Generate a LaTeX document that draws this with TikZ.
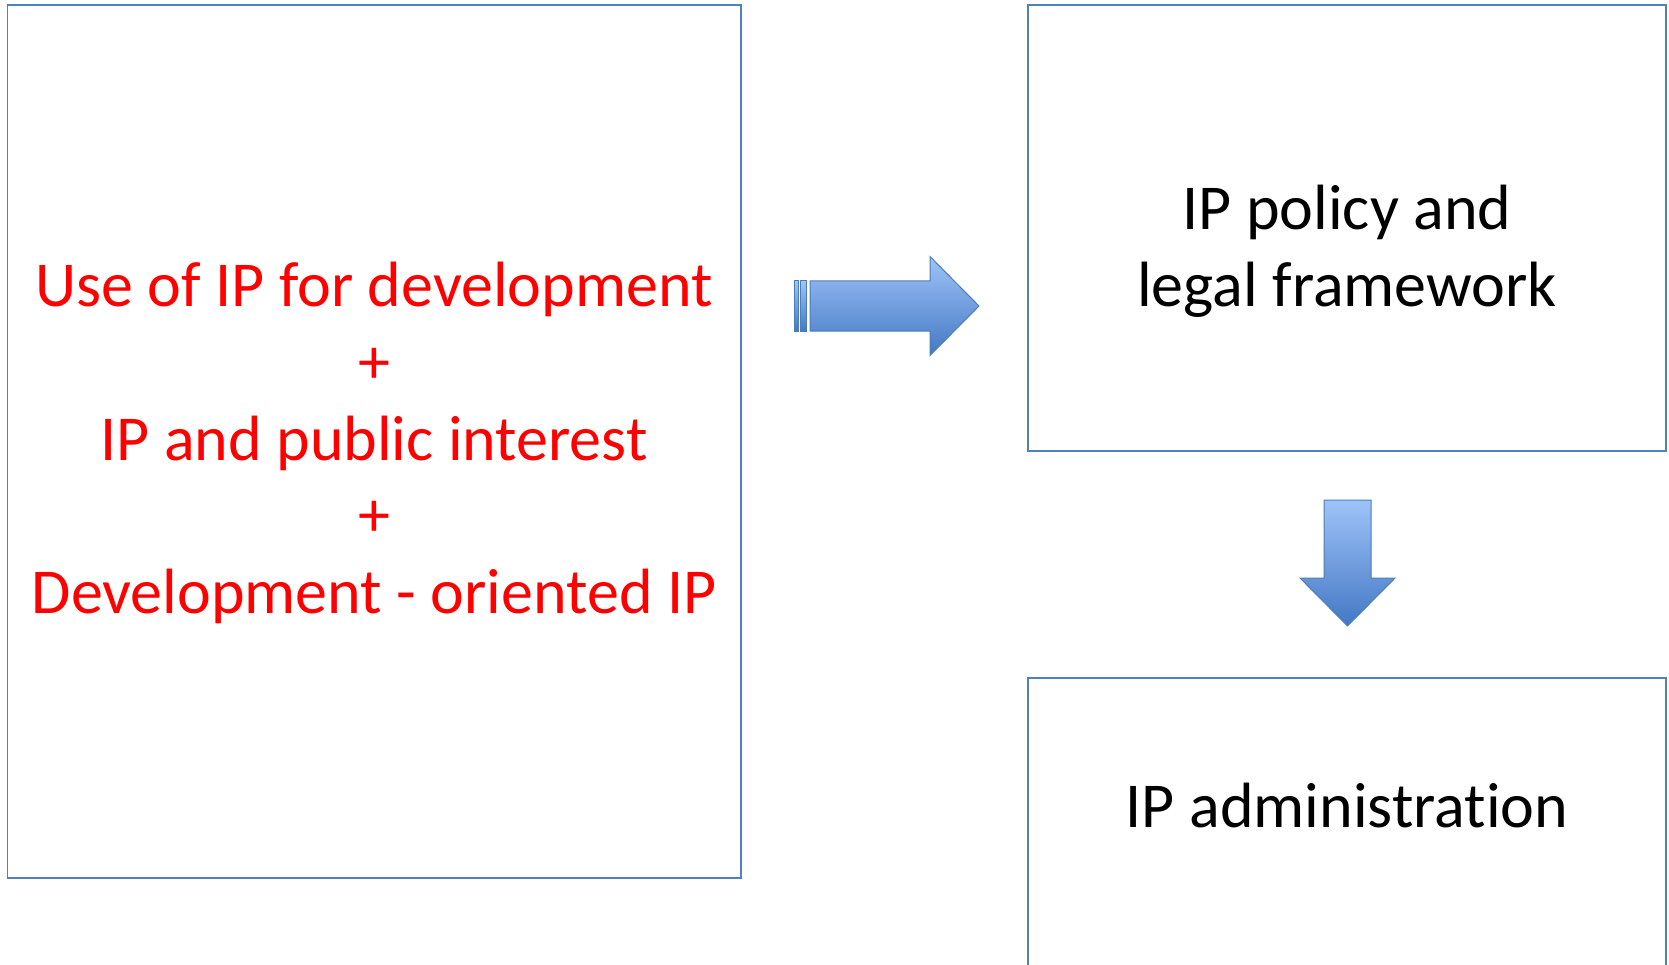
\documentclass[tikz,border=0pt]{standalone}
\usepackage{fontspec}
\setmainfont[Ligatures={NoCommon}]{Carlito}
\definecolor{boxblue}{HTML}{4F81BD}
\definecolor{arrtop}{HTML}{9EC3F8}
\definecolor{arrbot}{HTML}{4478C4}
\definecolor{arredge}{HTML}{4A7EBB}
\definecolor{txtred}{HTML}{FF0000}
\begin{document}
\begin{tikzpicture}[x=1pt,y=-1pt,
  panel/.style={draw=boxblue,line width=1.6pt,fill=none},
  blockarrow/.style={draw=arredge,line width=1pt,top color=arrtop,bottom color=arrbot,line join=miter},
  bigtext/.style={font=\fontsize{64}{76.6}\selectfont,align=center,inner sep=0pt}]
\useasboundingbox (0,0) rectangle (1669,965);
% boxes
\draw[panel] (7.5,5.3) rectangle (741,878);
\draw[panel] (1028,5.3) rectangle (1666,451);
\draw[panel] (1028,678) rectangle (1666,1000);
% texts
\node[bigtext,text=txtred] (lt) at (374,443) {Use of IP for development\\+\\IP and public interest\\+\\Development - oriented IP};
\node[bigtext] (rt) at (1347,251) {IP policy and\\legal framework};
\node[bigtext] (rb) at (1347,806) {IP administration};
% right block arrow
\path[blockarrow] (810,281) -- (930,281) -- (930,256.5) -- (979,306) -- (930,355.5) -- (930,331) -- (810,331) -- cycle;
\path[blockarrow] (800.4,281) rectangle (806.8,331);
\path[blockarrow] (794,281) rectangle (798.3,331);
% down block arrow
\path[blockarrow] (1324,500) -- (1371,500) -- (1371,578) -- (1395,578) -- (1347.5,626) -- (1300,578) -- (1324,578) -- cycle;
\end{tikzpicture}
\end{document}
